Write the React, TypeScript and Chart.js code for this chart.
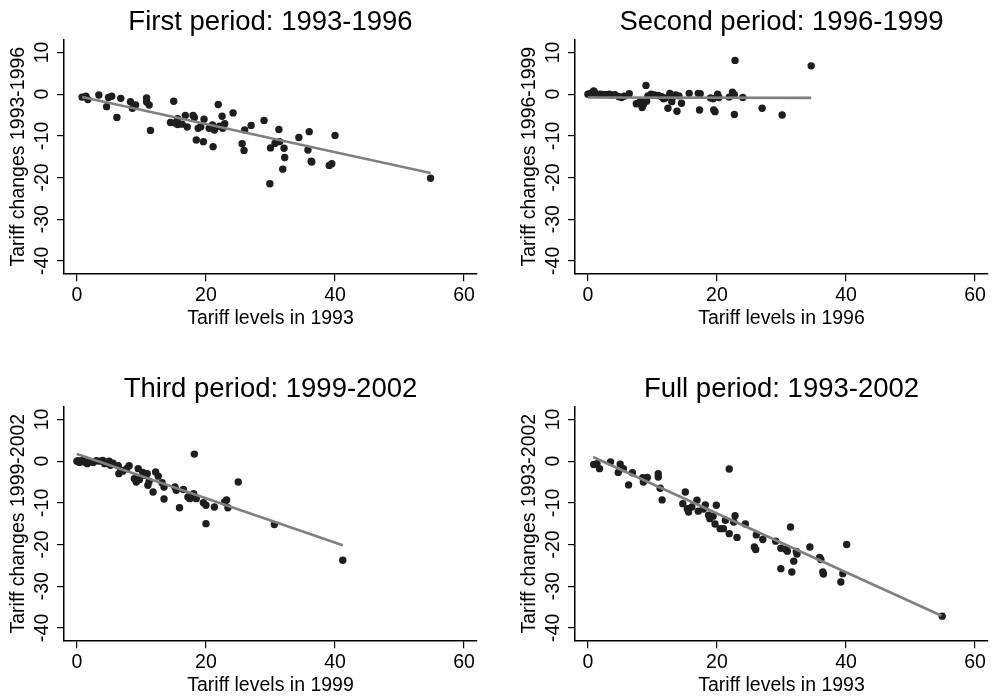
import React, { useEffect, useRef } from "react";
import { Chart, registerables } from "chart.js";

Chart.register(...registerables);

const FONT = '"Liberation Sans", Arial, Helvetica, sans-serif';

const xTickValues = [0, 20, 40, 60];
const yTickValues = [10, 0, -10, -20, -30, -40];

// First period: 1993-1996
const firstX = [0.8, 1.4, 1.7, 3.4, 4.6, 4.9, 5.4, 6.2, 6.8, 8.3, 8.6, 9.1, 10.8, 10.8, 11.2, 11.4, 15.0, 14.5, 15.2, 15.6, 15.6, 16.3, 16.8, 17.1, 18.0, 18.2, 18.5, 18.8, 19.2, 19.6, 19.7, 20.5, 21.0, 21.1, 21.3, 21.9, 22.1, 22.5, 22.6, 22.9, 24.2, 25.6, 25.9, 26.0, 27.0, 29.0, 29.9, 30.0, 30.7, 31.3, 31.4, 31.9, 32.1, 32.2, 34.4, 35.8, 36.0, 36.3, 36.4, 39.1, 39.5, 40.0, 54.8];
const firstY = [-0.7, -0.5, -1.3, -0.2, -3.0, -0.8, -0.5, -5.6, -1.0, -1.8, -3.4, -2.6, -0.9, -1.9, -2.6, -8.7, -1.7, -6.8, -6.9, -5.9, -7.3, -7.2, -5.1, -7.9, -5.1, -5.6, -11.0, -8.2, -7.8, -11.4, -6.0, -8.2, -7.4, -12.6, -8.6, -2.5, -7.7, -5.3, -8.2, -7.1, -4.5, -11.9, -13.5, -8.6, -7.5, -6.3, -21.5, -12.9, -11.8, -8.5, -11.4, -18.0, -13.0, -15.2, -10.4, -13.4, -9.0, -16.1, -16.3, -17.1, -16.7, -9.9, -20.2];
const firstFitX = [0.8, 54.8];
const firstFitY = [-0.7, -18.9];

// Second period: 1996-1999
const secondX = [0.0, 0.3, 0.6, 0.9, 1.2, 1.6, 2.0, 2.4, 2.8, 3.3, 3.7, 4.2, 4.8, 5.2, 5.6, 6.4, 7.5, 7.9, 8.2, 8.4, 8.6, 9.0, 9.1, 9.3, 9.8, 10.3, 10.9, 11.4, 11.7, 12.0, 12.4, 12.7, 13.0, 13.2, 13.6, 13.8, 14.1, 14.5, 15.7, 17.1, 17.4, 17.3, 19.0, 19.4, 19.5, 19.7, 20.1, 20.3, 21.9, 22.4, 22.7, 22.8, 22.7, 24.0, 27.0, 30.1, 34.6];
const secondY = [0.0, 0.1, 0.3, 0.8, 0.2, -0.1, 0.0, -0.1, -0.1, 0.0, -0.2, -0.1, -0.6, -0.8, -0.5, 0.1, -2.3, -2.1, -1.6, -3.2, -2.5, 2.1, -1.7, -0.4, 0.0, -0.2, -0.3, -0.6, -1.1, -0.9, -3.4, 0.2, -1.8, -0.6, -0.2, -4.1, -0.4, -2.2, 0.2, 0.2, 0.1, -3.8, -0.9, -1.1, -3.8, -4.2, 0.0, -0.8, -0.7, 0.5, -0.1, 8.1, -4.9, -0.8, -3.4, -5.0, 6.8];
const secondFitX = [0.0, 34.6];
const secondFitY = [-0.8, -0.9];

// Third period: 1999-2002
const thirdX = [0.0, 0.2, 0.4, 0.9, 1.2, 1.6, 2.0, 2.5, 3.0, 3.5, 4.0, 4.3, 4.6, 5.0, 5.2, 5.6, 6.4, 6.5, 6.8, 7.1, 7.7, 8.1, 8.9, 9.2, 9.5, 9.7, 10.2, 10.5, 10.9, 11.0, 11.2, 11.8, 12.2, 12.6, 13.2, 13.5, 13.5, 15.2, 15.4, 15.9, 16.5, 17.2, 17.5, 18.1, 18.2, 18.5, 19.6, 20.0, 20.0, 21.3, 22.9, 23.2, 23.4, 25.0, 30.6, 41.2];
const thirdY = [0.0, 0.1, -0.3, 0.2, -0.2, -0.6, -0.1, -0.3, 0.1, 0.0, 0.2, -0.6, -0.3, 0.0, -1.0, -0.5, -1.1, -3.0, -2.2, -2.4, -1.8, -1.1, -4.2, -5.0, -1.8, -4.4, -2.7, -3.4, -3.0, -5.8, -4.8, -7.4, -2.6, -3.6, -5.2, -6.2, -9.1, -6.2, -7.0, -11.2, -6.8, -8.6, -9.0, -7.8, 1.7, -9.0, -10.0, -10.6, -15.0, -11.0, -9.8, -9.3, -11.2, -5.0, -15.2, -23.8];
const thirdFitX = [0.0, 41.2];
const thirdFitY = [1.7, -20.2];

// Full period: 1993-2002
const fullX = [0.9, 1.4, 1.8, 3.5, 4.7, 5.0, 5.5, 6.3, 6.9, 8.5, 8.6, 9.2, 10.9, 10.9, 11.2, 11.5, 14.7, 15.1, 15.4, 15.6, 16.1, 16.9, 17.1, 17.9, 18.2, 18.7, 18.9, 19.4, 19.7, 19.9, 20.5, 21.0, 21.3, 21.9, 21.9, 22.6, 22.8, 23.1, 24.4, 25.8, 26.0, 26.1, 27.1, 29.1, 29.9, 29.9, 30.7, 30.9, 31.4, 31.6, 31.9, 32.4, 32.3, 34.4, 35.9, 36.1, 36.4, 36.5, 39.2, 39.5, 40.1, 54.9];
const fullY = [-0.8, -0.6, -1.8, -0.2, -2.7, -0.7, -1.8, -5.7, -2.8, -4.0, -5.0, -3.9, -3.0, -3.8, -6.5, -9.3, -10.2, -7.4, -11.4, -12.2, -11.0, -9.4, -12.0, -11.5, -10.5, -13.0, -13.8, -13.2, -15.1, -10.6, -16.2, -16.2, -14.2, -1.9, -17.4, -14.6, -13.1, -18.3, -15.1, -20.6, -21.2, -17.7, -18.8, -19.2, -20.9, -25.8, -21.2, -21.6, -15.8, -26.6, -24.0, -22.3, -21.7, -20.6, -23.1, -23.6, -26.6, -27.1, -29.0, -27.0, -20.0, -37.2];
const fullFitX = [0.8, 54.8];
const fullFitY = [1.0, -37.1];

const titles = ["First period: 1993-1996", "Second period: 1996-1999", "Third period: 1999-2002", "Full period: 1993-2002"];
const xLabels = ["Tariff levels in 1993", "Tariff levels in 1996", "Tariff levels in 1999", "Tariff levels in 1993"];
const yLabels = ["Tariff changes 1993-1996", "Tariff changes 1996-1999", "Tariff changes 1999-2002", "Tariff changes 1993-2002"];

const CANVAS_W = 483;
const CANVAS_H = 331;

function pairs(xs: number[], ys: number[]) {
  const n = Math.min(xs.length, ys.length);
  const out: { x: number; y: number }[] = [];
  for (let i = 0; i < n; i++) out.push({ x: xs[i], y: ys[i] });
  return out;
}

const rotatedYTicks = {
  id: "rotatedYTicks",
  afterDraw(chart: any) {
    const { ctx } = chart;
    const y = chart.scales.y;
    ctx.save();
    ctx.fillStyle = "#000";
    ctx.font = `19.5px ${FONT}`;
    ctx.textAlign = "center";
    ctx.textBaseline = "alphabetic";
    for (const v of yTickValues) {
      const py = y.getPixelForValue(v);
      ctx.save();
      ctx.translate(y.right - 15.7, py);
      ctx.rotate(-Math.PI / 2);
      ctx.fillText(String(v), 0, 0);
      ctx.restore();
    }
    ctx.restore();
  },
};

type PanelProps = {
  title: string;
  xLabel: string;
  yLabel: string;
  xs: number[];
  ys: number[];
  fitX: number[];
  fitY: number[];
  left: number;
  top: number;
};

function Panel(p: PanelProps) {
  const ref = useRef<HTMLCanvasElement | null>(null);
  useEffect(() => {
    if (!ref.current) return;
    const chart = new Chart(ref.current, {
      type: "scatter",
      data: {
        datasets: [
          {
            data: pairs(p.fitX, p.fitY),
            showLine: true,
            borderColor: "#808080",
            borderWidth: 2.6,
            pointRadius: 0,
            fill: false,
            order: 0,
          } as any,
          {
            data: pairs(p.xs, p.ys),
            backgroundColor: "#1e1e1e",
            pointRadius: 3.7,
            pointBorderWidth: 0,
            borderWidth: 0,
            order: 1,
          } as any,
        ],
      },
      options: {
        animation: false,
        responsive: false,
        events: [],
        layout: { padding: { left: 0, right: 6, top: 0, bottom: 0 } },
        plugins: {
          legend: { display: false },
          tooltip: { enabled: false },
          title: {
            display: true,
            text: p.title,
            fullSize: false,
            color: "#000",
            font: { family: FONT, size: 27.5, weight: "normal", lineHeight: 1.2 },
            padding: { top: 6.3, bottom: 0.7 },
          },
        },
        scales: {
          x: {
            type: "linear",
            min: -2,
            max: 62,
            afterBuildTicks: (s: any) => {
              s.ticks = xTickValues.map((v) => ({ value: v }));
            },
            afterFit: (s: any) => {
              s.height = CANVAS_H - 273.3;
            },
            grid: { drawOnChartArea: false, drawTicks: true, tickLength: 8, color: "#000", lineWidth: 1.2 },
            border: { display: true, color: "#000", width: 1.5 },
            ticks: {
              color: "#000",
              font: { family: FONT, size: 19.5, lineHeight: 1.2 },
              padding: 2.5,
              minRotation: 0,
              maxRotation: 0,
              callback: (v: any) => String(v),
            },
            title: {
              display: true,
              text: p.xLabel,
              color: "#000",
              font: { family: FONT, size: 19.5, lineHeight: 1.2 },
              padding: { top: 0, bottom: 0.8 },
            },
          },
          y: {
            type: "linear",
            min: -43,
            max: 13,
            afterBuildTicks: (s: any) => {
              s.ticks = yTickValues.map((v) => ({ value: v }));
            },
            afterFit: (s: any) => {
              s.width = 64;
            },
            grid: { drawOnChartArea: false, drawTicks: true, tickLength: 7, color: "#000", lineWidth: 1.2 },
            border: { display: true, color: "#000", width: 1.5 },
            ticks: { display: false },
            title: {
              display: true,
              text: p.yLabel,
              color: "#000",
              font: { family: FONT, size: 19.5, lineHeight: 1.2 },
              padding: { top: 6.5, bottom: 0 },
            },
          },
        },
      } as any,
      plugins: [rotatedYTicks],
    });
    return () => chart.destroy();
  }, []);
  return (
    <canvas
      ref={ref}
      width={CANVAS_W}
      height={CANVAS_H}
      style={{ position: "absolute", left: p.left, top: p.top, width: CANVAS_W, height: CANVAS_H, display: "block" }}
    />
  );
}

export default function App() {
  const panels = [
    { xs: firstX, ys: firstY, fitX: firstFitX, fitY: firstFitY, left: 0, top: 0 },
    { xs: secondX, ys: secondY, fitX: secondFitX, fitY: secondFitY, left: 511, top: 0 },
    { xs: thirdX, ys: thirdY, fitX: thirdFitX, fitY: thirdFitY, left: 0, top: 367 },
    { xs: fullX, ys: fullY, fitX: fullFitX, fitY: fullFitY, left: 511, top: 367 },
  ];
  return (
    <div style={{ position: "absolute", left: 0, top: 0, width: 994, height: 699, overflow: "hidden", background: "#fff" }}>
      {panels.map((pp, i) => (
        <Panel key={i} title={titles[i]} xLabel={xLabels[i]} yLabel={yLabels[i]} {...pp} />
      ))}
    </div>
  );
}
